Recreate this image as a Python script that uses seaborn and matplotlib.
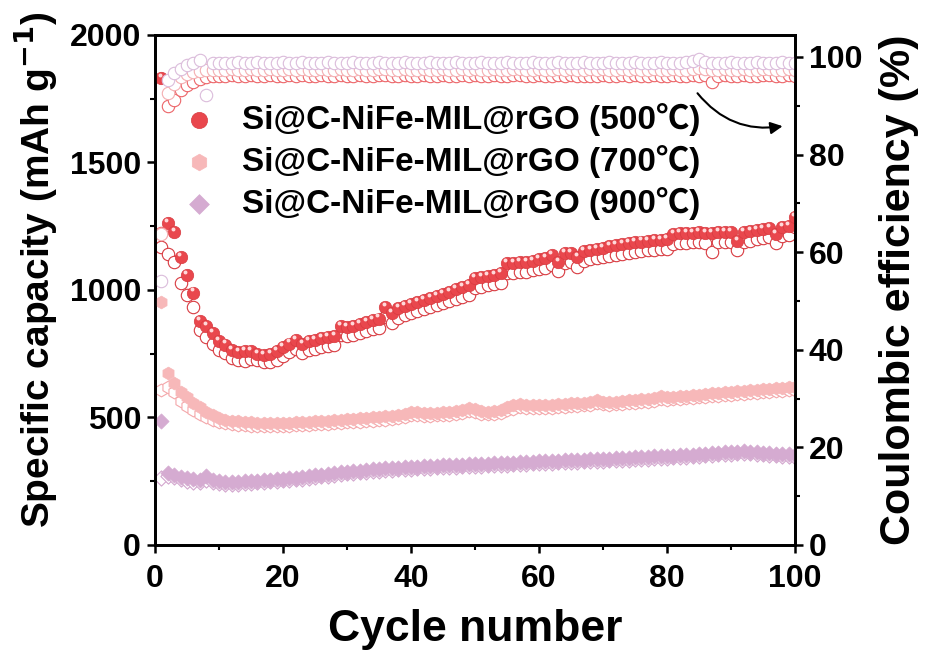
import numpy as np
import pandas as pd
import matplotlib
matplotlib.use("Agg")
import matplotlib.pyplot as plt
import seaborn as sns
from matplotlib.ticker import MultipleLocator

# ======================================
# DATA
# ======================================
cycles = list(range(1, 101))

cap500_dis = [1830, 1264, 1229, 1130, 1060, 990, 880, 857, 831, 800,
              786, 766, 755, 760, 762, 750, 745, 748, 760, 778,
              790, 804, 788, 800, 805, 810, 815, 820, 859, 855,
              860, 868, 875, 882, 888, 933, 909, 930, 938, 946,
              954, 962, 970, 978, 985, 993, 1002, 1010, 1020, 1046,
              1050, 1055, 1060, 1065, 1107, 1105, 1108, 1110, 1115, 1120,
              1124, 1137, 1111, 1144, 1146, 1128, 1153, 1158, 1162, 1166,
              1172, 1176, 1180, 1184, 1188, 1190, 1192, 1195, 1197, 1200,
              1218, 1222, 1224, 1225, 1226, 1224, 1225, 1226, 1228, 1226,
              1192, 1226, 1230, 1236, 1240, 1244, 1219, 1248, 1252, 1285]
cap500_ch = [1169, 1140, 1110, 1026, 980, 935, 843, 817, 790, 766,
             753, 735, 725, 722, 728, 724, 718, 718, 725, 742,
             755, 768, 752, 765, 770, 775, 780, 786, 822, 820,
             825, 832, 840, 848, 852, 895, 872, 892, 900, 908,
             916, 924, 932, 940, 948, 955, 964, 972, 982, 1008,
             1012, 1018, 1022, 1028, 1068, 1066, 1070, 1072, 1077, 1082,
             1086, 1098, 1074, 1106, 1108, 1090, 1115, 1120, 1124, 1128,
             1134, 1138, 1142, 1146, 1150, 1153, 1155, 1158, 1160, 1162,
             1180, 1184, 1186, 1188, 1188, 1186, 1150, 1188, 1190, 1188,
             1156, 1188, 1192, 1198, 1202, 1206, 1183, 1210, 1214, 1245]

cap700_dis = [953, 676, 637, 600, 582, 556, 540, 520, 508, 498,
              492, 488, 485, 483, 482, 480, 479, 478, 478, 479,
              480, 481, 482, 484, 485, 486, 488, 490, 491, 493,
              495, 496, 498, 500, 502, 504, 506, 510, 515, 523,
              520, 516, 517, 519, 520, 522, 524, 530, 537, 532,
              526, 523, 525, 530, 540, 548, 553, 550, 547, 548,
              549, 550, 552, 553, 555, 556, 558, 560, 569, 562,
              560, 562, 565, 567, 569, 571, 573, 578, 586, 580,
              582, 584, 586, 588, 590, 592, 594, 596, 598, 600,
              602, 604, 606, 608, 610, 612, 614, 616, 618, 620]
cap700_ch = [608, 620, 598, 566, 545, 528, 515, 500, 490, 483,
             478, 474, 471, 469, 468, 467, 466, 466, 466, 467,
             468, 469, 470, 472, 473, 474, 476, 478, 479, 481,
             483, 484, 486, 488, 490, 492, 494, 498, 503, 510,
             508, 505, 506, 508, 509, 511, 513, 518, 524, 520,
             515, 512, 514, 519, 528, 535, 540, 538, 536, 537,
             538, 539, 541, 542, 544, 545, 547, 549, 556, 551,
             549, 551, 554, 556, 558, 560, 562, 566, 574, 569,
             571, 573, 575, 577, 579, 581, 583, 585, 587, 589,
             591, 593, 595, 597, 599, 601, 603, 605, 607, 609]

cap900_dis = [486, 282, 276, 268, 262, 258, 256, 272, 255, 250,
              248, 247, 248, 249, 250, 252, 254, 256, 258, 260,
              262, 264, 267, 270, 273, 276, 279, 282, 285, 288,
              290, 292, 294, 296, 298, 300, 302, 303, 305, 306,
              307, 308, 310, 311, 312, 313, 314, 315, 316, 317,
              318, 319, 320, 321, 322, 323, 324, 325, 327, 328,
              329, 330, 331, 332, 333, 334, 335, 336, 337, 338,
              339, 340, 341, 342, 343, 345, 346, 347, 348, 349,
              350, 351, 352, 354, 356, 358, 360, 362, 364, 365,
              366, 368, 366, 364, 362, 360, 358, 356, 355, 353]
cap900_ch = [263, 270, 266, 258, 252, 248, 246, 255, 246, 242,
             241, 240, 241, 242, 243, 245, 247, 249, 251, 253,
             255, 257, 260, 263, 266, 269, 272, 275, 278, 281,
             283, 285, 287, 289, 291, 293, 295, 296, 298, 299,
             300, 301, 303, 304, 305, 306, 307, 308, 309, 310,
             311, 312, 313, 314, 315, 316, 317, 318, 320, 321,
             322, 323, 324, 325, 326, 327, 328, 329, 330, 331,
             332, 333, 334, 335, 336, 338, 339, 340, 341, 342,
             343, 344, 345, 347, 349, 351, 353, 355, 357, 358,
             359, 361, 359, 357, 355, 353, 351, 349, 348, 346]

ce500 = [63.9, 90.0, 91.2, 93.2, 94.3, 94.9, 95.5, 95.8, 96.0, 96.1,
         96.0, 96.2, 96.1, 96.0, 96.3, 96.1, 96.0, 96.2, 96.1, 96.0,
         96.2, 96.1, 96.3, 96.0, 96.1, 96.2, 96.0, 96.1, 96.3, 96.0,
         96.1, 96.2, 96.0, 96.1, 96.2, 96.3, 96.0, 96.1, 96.2, 96.0,
         96.1, 96.3, 96.1, 96.0, 96.2, 96.1, 96.0, 96.2, 96.1, 96.3,
         96.0, 96.1, 96.2, 96.0, 96.1, 96.2, 96.3, 96.1, 96.0, 96.2,
         96.1, 96.0, 96.2, 96.1, 96.3, 96.0, 96.1, 96.0, 96.1, 96.2,
         96.0, 96.1, 96.2, 96.0, 96.3, 96.1, 96.0, 96.2, 96.1, 96.0,
         96.2, 96.1, 96.0, 96.2, 96.1, 96.3, 94.9, 96.1, 96.2, 96.0,
         96.1, 96.2, 96.0, 96.1, 96.3, 96.2, 96.0, 96.1, 96.2, 96.1]
ce700 = [63.8, 92.6, 94.5, 95.8, 96.5, 97.0, 97.2, 97.3, 97.4, 97.3,
         97.4, 97.5, 97.3, 97.4, 97.6, 97.4, 97.3, 97.5, 97.4, 97.3,
         97.5, 97.4, 97.6, 97.3, 97.4, 97.5, 97.3, 97.4, 97.6, 97.3,
         97.4, 97.5, 97.3, 97.4, 97.5, 97.6, 97.3, 97.4, 97.5, 97.3,
         97.4, 97.6, 97.4, 97.3, 97.5, 97.4, 97.3, 97.5, 97.4, 97.6,
         97.3, 97.4, 97.5, 97.3, 97.4, 97.5, 97.6, 97.4, 97.3, 97.5,
         97.4, 97.3, 97.5, 97.4, 97.6, 97.3, 97.4, 97.5, 97.4, 97.5,
         97.3, 97.4, 97.5, 97.3, 97.6, 97.4, 97.3, 97.5, 97.4, 97.3,
         97.5, 97.4, 97.3, 97.5, 97.8, 97.6, 97.3, 97.4, 97.5, 97.3,
         97.4, 97.5, 97.3, 97.4, 97.6, 97.5, 97.3, 97.4, 97.5, 97.4]
ce900 = [54.0, 95.3, 96.7, 97.6, 98.4, 98.8, 99.4, 92.2, 98.8, 98.7,
         98.8, 98.7, 98.9, 98.7, 98.8, 98.9, 98.7, 98.8, 98.7, 98.9,
         98.8, 98.7, 98.9, 98.8, 98.7, 98.8, 98.9, 98.7, 98.8, 98.7,
         98.9, 98.8, 98.7, 98.8, 98.9, 98.7, 98.8, 98.7, 98.9, 98.8,
         98.7, 98.8, 98.9, 98.7, 98.8, 98.7, 98.9, 98.8, 98.7, 98.8,
         98.9, 98.7, 98.8, 98.7, 98.9, 98.8, 98.7, 98.8, 98.9, 98.7,
         98.8, 98.7, 98.9, 98.8, 98.7, 98.8, 98.9, 98.7, 98.8, 98.7,
         98.9, 98.8, 98.7, 98.8, 98.9, 98.7, 98.8, 98.7, 98.9, 98.8,
         98.7, 98.8, 98.9, 99.2, 99.5, 98.9, 98.7, 98.8, 98.7, 98.9,
         98.8, 98.7, 98.8, 98.9, 98.7, 98.8, 98.7, 98.9, 98.8, 98.7]

labels = ["Si@C-NiFe-MIL@rGO (500℃)",
          "Si@C-NiFe-MIL@rGO (700℃)",
          "Si@C-NiFe-MIL@rGO (900℃)"]

# ======================================
# STYLE
# ======================================
sns.set_style("ticks")
plt.rcParams["font.family"] = ["Liberation Sans", "Noto Sans CJK SC", "DejaVu Sans"]
plt.rcParams["font.weight"] = "bold"
for key in ("text.color", "axes.labelcolor", "xtick.color", "ytick.color",
            "axes.edgecolor"):
    plt.rcParams[key] = "black"

red_fill, red_edge = "#e9474d", "#d83a40"
pink_fill, pink_edge = "#f7b8b9", "#f4a7aa"
lav_fill, lav_edge = "#d5abd1", "#d2a6ce"
ce_red, ce_pink, ce_lav = "#ec6468", "#f4aeb1", "#dbbcdb"

df = pd.DataFrame({
    "cycle": cycles,
    "d500": cap500_dis, "c500": cap500_ch,
    "d700": cap700_dis, "c700": cap700_ch,
    "d900": cap900_dis, "c900": cap900_ch,
    "e500": ce500, "e700": ce700, "e900": ce900,
})

fig, ax = plt.subplots(figsize=(9.26, 6.55), dpi=100)
fig.subplots_adjust(left=0.1674, right=0.8585, bottom=0.168, top=0.9466)
ax2 = ax.twinx()

# capacity: open = charge, filled = discharge
sns.scatterplot(data=df, x="cycle", y="c900", ax=ax, marker="D", s=60,
                color="white", edgecolor=lav_edge, linewidth=0.8, zorder=2)
sns.scatterplot(data=df, x="cycle", y="d900", ax=ax, marker="D", s=60,
                color=lav_fill, edgecolor=lav_fill, linewidth=0.5, zorder=3,
                label=labels[2])
sns.scatterplot(data=df, x="cycle", y="c700", ax=ax, marker="h", s=85,
                color="white", edgecolor=pink_edge, linewidth=0.8, zorder=2)
sns.scatterplot(data=df, x="cycle", y="d700", ax=ax, marker="h", s=85,
                color=pink_fill, edgecolor=pink_fill, linewidth=0.5, zorder=3,
                label=labels[1])
sns.scatterplot(data=df, x="cycle", y="c500", ax=ax, marker="o", s=80,
                color="white", edgecolor=red_edge, linewidth=0.8, zorder=2)
sns.scatterplot(data=df, x="cycle", y="d500", ax=ax, marker="o", s=80,
                color=red_fill, edgecolor=red_edge, linewidth=0.5, zorder=3,
                label=labels[0])
# small highlight on the red spheres
ax.scatter(df["cycle"] - 0.25, df["d500"] + 12, marker="o", s=8,
           color="#ffd9da", linewidth=0, zorder=4)

handles, leg_labels = ax.get_legend_handles_labels()
ax.get_legend().remove()

# coulombic efficiency
sns.scatterplot(data=df, x="cycle", y="e500", ax=ax2, marker="o", s=80,
                color="white", edgecolor=ce_red, linewidth=0.8, zorder=2)
sns.scatterplot(data=df, x="cycle", y="e700", ax=ax2, marker="o", s=80,
                color="white", edgecolor=ce_pink, linewidth=0.8, zorder=2)
sns.scatterplot(data=df, x="cycle", y="e900", ax=ax2, marker="o", s=80,
                color="white", edgecolor=ce_lav, linewidth=0.8, zorder=2)

# ======================================
# AXES
# ======================================
ax.set_xlim(0, 100)
ax.set_ylim(0, 2000)
ax2.set_ylim(0, 104.5)
ax.xaxis.set_major_locator(MultipleLocator(20))
ax.xaxis.set_minor_locator(MultipleLocator(10))
ax.yaxis.set_major_locator(MultipleLocator(500))
ax.yaxis.set_minor_locator(MultipleLocator(250))
ax2.yaxis.set_major_locator(MultipleLocator(20))
ax2.yaxis.set_minor_locator(MultipleLocator(10))

for a in (ax, ax2):
    a.tick_params(which="major", direction="out", length=6, width=1.8,
                  labelsize=23, pad=4, colors="black")
    a.tick_params(which="minor", direction="out", length=3.5, width=1.5,
                  colors="black")
    for sp in a.spines.values():
        sp.set_linewidth(2.0)
        sp.set_visible(True)
        sp.set_color("black")
    for t in a.get_xticklabels() + a.get_yticklabels():
        t.set_fontweight("bold")
ax.tick_params(axis="x", which="major", pad=8)

ax.set_xlabel("Cycle number", fontsize=32, fontweight="bold")
ax.xaxis.set_label_coords(0.5, -0.125)
ax.set_ylabel("Specific capacity (mAh g$^{\\mathbf{-1}}$)", fontsize=28,
              fontweight="bold")
ax.yaxis.set_label_coords(-0.15, 0.54)
ax2.set_ylabel("Coulombic efficiency (%)", fontsize=31, fontweight="bold",
               labelpad=12)

leg = ax2.legend(handles[::-1], leg_labels[::-1], loc="upper left",
                 bbox_to_anchor=(-0.03, 0.925), frameon=False,
                 prop={"size": 24, "weight": "bold"},
                 handletextpad=0.3, labelspacing=0.26, markerscale=1.3)
leg.set_zorder(10)

ax2.annotate("", xy=(0.985, 0.822), xytext=(0.845, 0.89),
             xycoords="axes fraction", textcoords="axes fraction",
             arrowprops=dict(arrowstyle="-|>", color="black", lw=1.5,
                             connectionstyle="arc3,rad=0.3",
                             mutation_scale=18))

plt.savefig("out.png", dpi=100)
